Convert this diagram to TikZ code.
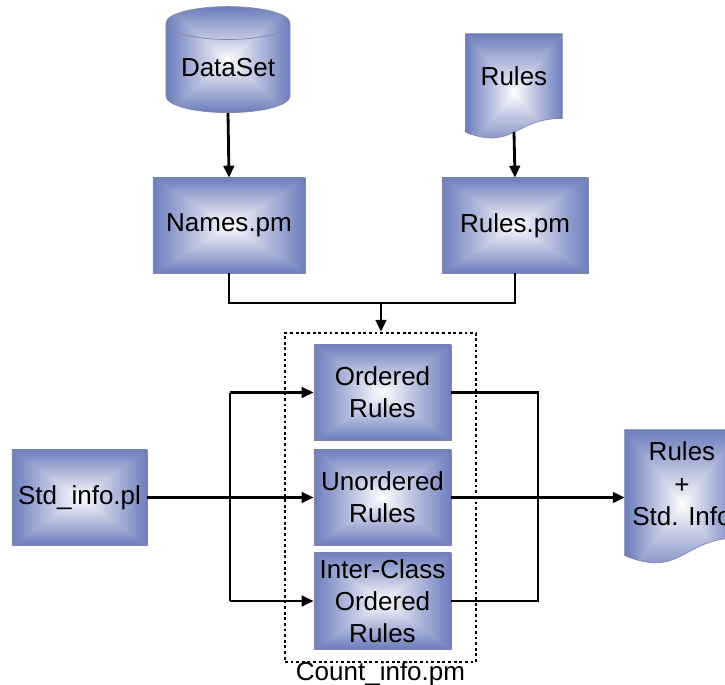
\documentclass[tikz,border=0pt]{standalone}
\usepackage{fontspec}
\setmainfont{Liberation Sans}
\usetikzlibrary{positioning,arrows.meta,calc,shapes.geometric,backgrounds}

\definecolor{edgeblue}{RGB}{130,136,170}

% white centre, blue rim, square bevel (path box sits in the middle 50bp)
\pgfdeclarefunctionalshading{bevel}{\pgfpoint{-50bp}{-50bp}}{\pgfpoint{50bp}{50bp}}{}{
  abs exch abs 2 copy lt {exch} if pop 25 div dup 1 gt {pop 1} if 0.95 exp
  dup 0.57 mul 1 exch sub exch
  dup 0.51 mul 1 exch sub exch
  0.26 mul 1 exch sub
}

% page outline with wavy foot, drawn behind node #1
\newcommand\docpage[1]{%
  \path[docfill] (#1.north west) -- (#1.north east) -- (#1.south east)
    .. controls (#1.south) and ($(#1.north)!1.38!(#1.south)$)
    .. ($(#1.north west)!1.165!(#1.south west)$) -- cycle;}

\begin{document}
\begin{tikzpicture}[
  x=0.025cm, y=-0.025cm,
  every node/.style={font=\fontsize{18.5}{22.8}\selectfont, align=center, inner sep=0pt},
  block/.style={draw=edgeblue, line width=0.5pt, shading=bevel, minimum height=2.375cm},
  docbox/.style={minimum width=#1},
  docfill/.style={draw=edgeblue, line width=0.5pt, shading=bevel},
  store/.style={cylinder, shape border rotate=90, aspect=0.35, draw=edgeblue, line width=0.5pt,
    shading=bevel, minimum width=3.1cm, minimum height=2.65cm},
  flow/.style={line width=2pt},
  >={Triangle[length=8.5pt,width=7.5pt]}
]
\useasboundingbox (0,0) rectangle (725,685);
\clip (0,0) rectangle (725,685);

% sources
\node[store] (data) at (228,68) {DataSet};
\node[docbox=2.4cm, minimum height=2.105cm] (rules) at (514,76) {Rules};
\node[block, minimum width=3.8cm] (names) at (229,225.5) {Names.pm};
\node[block, minimum width=3.65cm] (rulespm) at (515,225.5) {Rules.pm};
\node[block, minimum width=3.375cm] (std) at (79.5,497.5) {Std\_info.pl};

% counting module
\node[draw, line width=1.7pt, dash pattern=on 2pt off 2pt, minimum width=4.775cm, minimum height=8.225cm] (count) at (380.5,497.5) {};
\node[below=-0.05cm of count] (countname) {Count\_info.pm};
\node[block, minimum width=3.425cm] (ord) at (382.5,392.5) {Ordered\\Rules};
\node[block, minimum width=3.425cm] (unord) at (382.5,497.5) {Unordered\\Rules};
\node[block, minimum width=3.425cm, minimum height=2.4cm] (inter) at (382.5,601) {Inter-Class\\Ordered\\Rules};

% result
\node[docbox=2.85cm, minimum height=2.69cm] (out) at (682,483.7) {Rules\\+\\Std. Info};

\begin{scope}[on background layer]
  \docpage{rules}
  \docpage{out}
\end{scope}

\coordinate (rulesfoot) at ($(rules.north)!1.163!(rules.south)$);
\coordinate (join) at (381,303);
\coordinate (busT) at (230,392.5);
\coordinate (busB) at (230,601);
\coordinate (outT) at (538,392.5);
\coordinate (outB) at (538,601);

\draw[flow,->] (data.south) -- (names.north);
\draw[flow,->] (rulesfoot) -- (rulespm.north);
\draw[flow] (names.south) |- (join) -| (rulespm.south);
\draw[flow,->] (join) -- (join |- count.north);

\draw[flow] (busT) -- (busB);
\draw[flow,->] (busT) -- (ord.west);
\draw[flow,->] (busB) -- (inter.west);
\draw[flow,->] (std.east) -- (unord.west);

\draw[flow] (ord.east) -- (outT) -- (outB) -- (inter.east);
\draw[flow,->] (unord.east) -- (unord.east -| out.west);
\end{tikzpicture}
\end{document}
